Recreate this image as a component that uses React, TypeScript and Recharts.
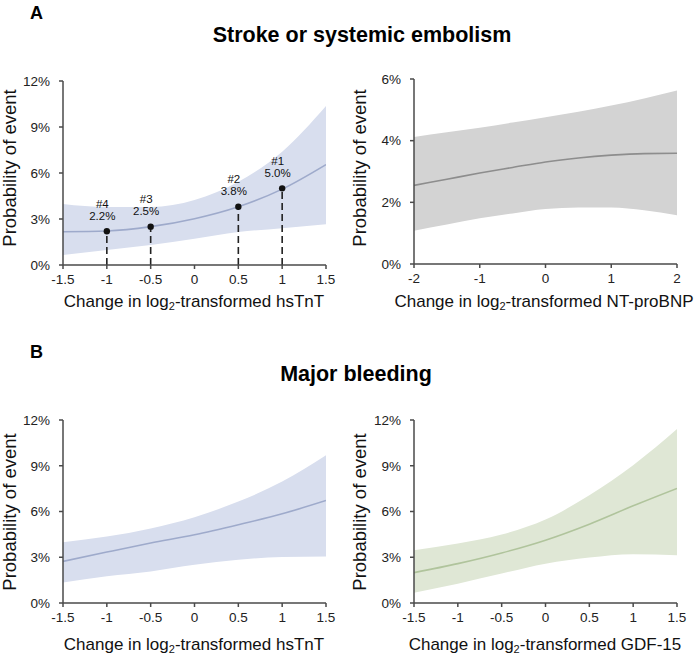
import React from 'react';
import { ComposedChart, Area, Line, XAxis, YAxis, Scatter, ReferenceLine, LabelList } from 'recharts';

// Panel A left: stroke vs hsTnT
const xHalf = [-1.5, -1, -0.5, 0, 0.5, 1, 1.5];
const strokeTnTMid = [2.17, 2.22, 2.5, 3.02, 3.8, 4.95, 6.55];
const strokeTnTLo = [0.65, 0.98, 1.3, 1.72, 2.15, 2.4, 2.65];
const strokeTnTHi = [3.98, 3.78, 3.78, 4.24, 5.43, 7.39, 10.37];

// Panel A right: stroke vs NT-proBNP
const xBnp = [-2, -1.5, -1, -0.5, 0, 0.5, 1, 1.5, 2];
const strokeBnpMid = [2.55, 2.75, 2.95, 3.13, 3.31, 3.44, 3.53, 3.58, 3.59];
const strokeBnpLo = [1.08, 1.28, 1.48, 1.64, 1.78, 1.83, 1.83, 1.74, 1.58];
const strokeBnpHi = [4.12, 4.27, 4.42, 4.59, 4.76, 4.94, 5.14, 5.37, 5.63];

// Panel B left: bleeding vs hsTnT
const bleedTnTMid = [2.73, 3.34, 3.93, 4.47, 5.13, 5.85, 6.72];
const bleedTnTLo = [1.35, 1.75, 2.07, 2.51, 2.84, 3.01, 3.05];
const bleedTnTHi = [3.99, 4.36, 4.89, 5.63, 6.65, 7.96, 9.69];

// Panel B right: bleeding vs GDF-15
const bleedGdfMid = [1.99, 2.58, 3.28, 4.12, 5.17, 6.37, 7.51];
const bleedGdfLo = [0.68, 1.27, 1.93, 2.58, 2.98, 3.2, 3.13];
const bleedGdfHi = [3.46, 3.9, 4.49, 5.47, 7.07, 9.04, 11.41];

// Annotated points (panel A left)
const markX = [1, 0.5, -0.5, -1];
const markY = [5.0, 3.8, 2.5, 2.2];
const markIds = ['#1', '#2', '#3', '#4'];

const ticksHalf = [-1.5, -1, -0.5, 0, 0.5, 1, 1.5];
const ticksBnp = [-2, -1, 0, 1, 2];
const yTicks12 = [0, 3, 6, 9, 12];
const yTicks6 = [0, 2, 4, 6];

const FONT = 'Arial, "Liberation Sans", Helvetica, sans-serif';
const AXIS = '#4a4a4a';

const build = (xs: number[], mid: number[], lo: number[], hi: number[]) =>
  xs.map((x, i) => ({ x, mid: mid[i], band: [lo[i], hi[i]] }));

type PanelProps = {
  left: number;
  plotTop: number;
  plotH: number;
  data: any[];
  xDomain: [number, number];
  xTicks: number[];
  yMax: number;
  yTicks: number[];
  band: string;
  line: string;
  marks?: boolean;
};

const MarkLabel = (props: any) => {
  const { x, y, index } = props;
  return (
    <g>
      <text x={x} y={y - 22} textAnchor="middle" dominantBaseline="middle" fontSize={11.5} fill="#111" fontFamily={FONT}>
        {markIds[index]}
      </text>
      <text x={x} y={y - 10} textAnchor="middle" dominantBaseline="middle" fontSize={11.5} fill="#111" fontFamily={FONT}>
        {markY[index].toFixed(1) + '%'}
      </text>
    </g>
  );
};

const Panel = ({ left, plotTop, plotH, data, xDomain, xTicks, yMax, yTicks, band, line, marks }: PanelProps) => {
  const mTop = 20;
  const xAxisH = 30;
  const height = mTop + plotH + xAxisH + 2;
  const markData = markX.map((x, i) => ({ x, y: markY[i] }));
  return (
    <div style={{ position: 'absolute', left: left - 63, top: plotTop - mTop }}>
      <ComposedChart
        width={340}
        height={height}
        data={data}
        margin={{ top: mTop, right: 14, left: 18, bottom: 2 }}
      >
        <XAxis
          dataKey="x"
          type="number"
          domain={xDomain}
          ticks={xTicks}
          allowDataOverflow
          height={xAxisH}
          stroke={AXIS}
          strokeWidth={1.5}
          tickSize={4}
          tickMargin={5}
          tick={{ fill: '#222', fontSize: 13.5, fontFamily: FONT }}
          tickLine={{ stroke: AXIS, strokeWidth: 1.5 }}
        />
        <YAxis
          type="number"
          domain={[0, yMax]}
          ticks={yTicks}
          width={45}
          stroke={AXIS}
          strokeWidth={1.5}
          tickSize={4}
          tickMargin={9}
          tickFormatter={(v: number) => v + '%'}
          tick={{ fill: '#222', fontSize: 13.5, fontFamily: FONT }}
          tickLine={{ stroke: AXIS, strokeWidth: 1.5 }}
        />
        <Area
          dataKey="band"
          type="monotone"
          fill={band}
          fillOpacity={1}
          stroke="none"
          isAnimationActive={false}
          activeDot={false}
        />
        <Line
          dataKey="mid"
          type="monotone"
          stroke={line}
          strokeWidth={1.6}
          dot={false}
          isAnimationActive={false}
          activeDot={false}
        />
        {marks &&
          markData.map((m, i) => (
            <ReferenceLine
              key={i}
              segment={[{ x: m.x, y: 0 }, { x: m.x, y: m.y }]}
              stroke="#222"
              strokeWidth={1.6}
              strokeDasharray="7 4"
            />
          ))}
        {marks && (
          <Scatter data={markData} dataKey="y" fill="#111" isAnimationActive={false} shape={(p: any) => <circle cx={p.cx} cy={p.cy} r={3.2} fill="#111" />}>
            <LabelList dataKey="y" content={<MarkLabel />} />
          </Scatter>
        )}
      </ComposedChart>
    </div>
  );
};

const XLabel = ({ cx, top, name }: { cx: number; top: number; name: string }) => (
  <div
    style={{
      position: 'absolute',
      left: cx - 200,
      width: 400,
      top,
      textAlign: 'center',
      fontSize: 17,
      fontFamily: FONT,
      color: '#111',
      whiteSpace: 'nowrap',
      lineHeight: '20px',
    }}
  >
    Change in log<sub style={{ fontSize: 11, verticalAlign: '-3px', lineHeight: 0 }}>2</sub>-transformed {name}
  </div>
);

const YLabel = ({ cx, cy }: { cx: number; cy: number }) => (
  <div
    style={{
      position: 'absolute',
      left: cx - 100,
      top: cy - 11,
      width: 200,
      height: 22,
      lineHeight: '22px',
      textAlign: 'center',
      fontSize: 18.5,
      fontFamily: FONT,
      color: '#111',
      transform: 'rotate(-90deg)',
      whiteSpace: 'nowrap',
    }}
  >
    Probability of event
  </div>
);

const Title = ({ cx, cy, text }: { cx: number; cy: number; text: string }) => (
  <div
    style={{
      position: 'absolute',
      left: cx - 250,
      width: 500,
      top: cy - 12,
      lineHeight: '24px',
      textAlign: 'center',
      fontSize: 21.5,
      fontWeight: 'bold',
      fontFamily: FONT,
      color: '#000',
    }}
  >
    {text}
  </div>
);

const Letter = ({ x, cy, text }: { x: number; cy: number; text: string }) => (
  <div
    style={{
      position: 'absolute',
      left: x,
      top: cy - 11,
      lineHeight: '22px',
      fontSize: 18,
      fontWeight: 'bold',
      fontFamily: FONT,
      color: '#000',
    }}
  >
    {text}
  </div>
);

export default function App() {
  const dA1 = build(xHalf, strokeTnTMid, strokeTnTLo, strokeTnTHi);
  const dA2 = build(xBnp, strokeBnpMid, strokeBnpLo, strokeBnpHi);
  const dB1 = build(xHalf, bleedTnTMid, bleedTnTLo, bleedTnTHi);
  const dB2 = build(xHalf, bleedGdfMid, bleedGdfLo, bleedGdfHi);
  const blueBand = '#d8deee';
  const blueLine = '#9eaacb';
  return (
    <div style={{ position: 'absolute', left: 0, top: 0, width: 700, height: 658, background: '#fff', overflow: 'hidden' }}>
      <Letter x={30} cy={13} text="A" />
      <Title cx={362} cy={35} text="Stroke or systemic embolism" />
      <Letter x={30} cy={352} text="B" />
      <Title cx={356} cy={374} text="Major bleeding" />

      <Panel left={63} plotTop={81} plotH={184} data={dA1} xDomain={[-1.5, 1.5]} xTicks={ticksHalf} yMax={12} yTicks={yTicks12} band={blueBand} line={blueLine} marks />
      <Panel left={414} plotTop={79} plotH={185} data={dA2} xDomain={[-2, 2]} xTicks={ticksBnp} yMax={6} yTicks={yTicks6} band="#d3d3d3" line="#8d8d8d" />
      <Panel left={63} plotTop={420} plotH={183} data={dB1} xDomain={[-1.5, 1.5]} xTicks={ticksHalf} yMax={12} yTicks={yTicks12} band={blueBand} line={blueLine} />
      <Panel left={414} plotTop={420} plotH={183} data={dB2} xDomain={[-1.5, 1.5]} xTicks={ticksHalf} yMax={12} yTicks={yTicks12} band="#dfe7d5" line="#b0c49c" />

      <YLabel cx={10} cy={168} />
      <YLabel cx={360} cy={168} />
      <YLabel cx={10} cy={512} />
      <YLabel cx={360} cy={512} />

      <XLabel cx={194} top={292} name="hsTnT" />
      <XLabel cx={544} top={292} name="NT-proBNP" />
      <XLabel cx={194} top={635} name="hsTnT" />
      <XLabel cx={545} top={635} name="GDF-15" />
    </div>
  );
}
